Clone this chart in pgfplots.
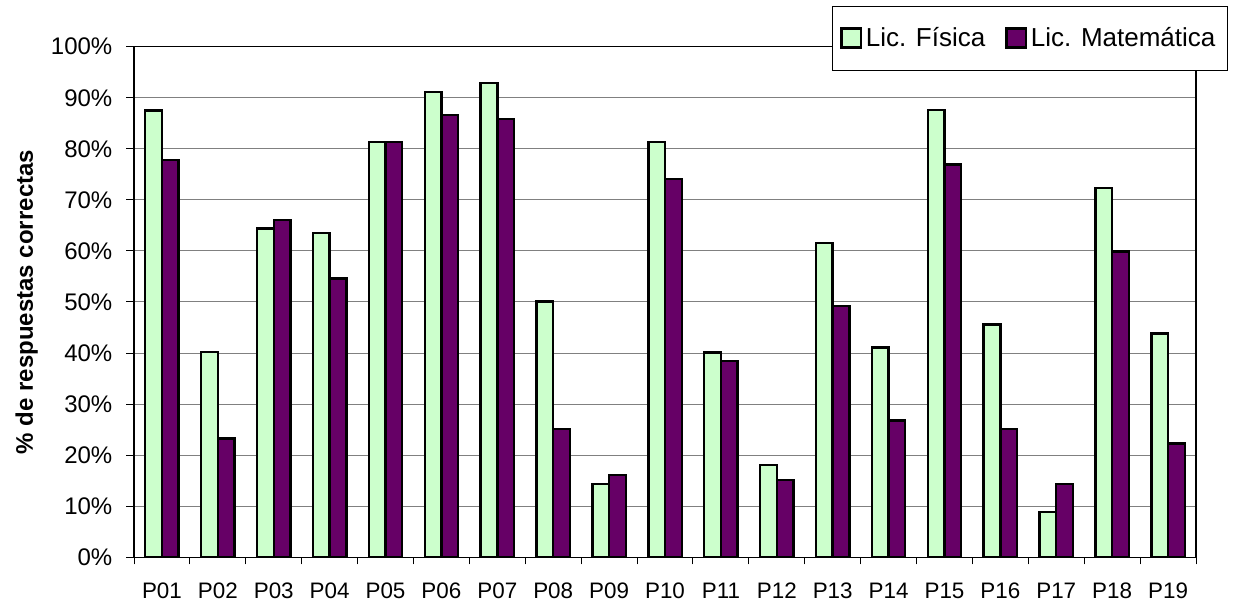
\documentclass[border=0pt]{standalone}
\usepackage{pgfplots}
\pgfplotsset{compat=1.18}
\usepackage{fontspec}
\setmainfont{Liberation Sans}

\definecolor{fisica}{HTML}{CCFFCC}
\definecolor{mate}{HTML}{660066}

% % de respuestas correctas por pregunta
\pgfplotstableread{
x  fis   mat
1  87.5  77.8
2  40.2  23.3
3  64.4  66.1
4  63.5  54.6
5  81.3  81.3
6  91.1  86.6
7  92.9  85.8
8  50.1  25.1
9  14.4  16.1
10 81.3  74.1
11 40.1  38.4
12 18.1  15.1
13 61.6  49.2
14 41.1  26.8
15 87.6  76.9
16 45.6  25.1
17  8.9  14.4
18 72.3  59.9
19 43.8  22.3
}\datos

\begin{document}
\begin{tikzpicture}
\begin{axis}[
    name=ax,
    scale only axis,
    width=531pt, height=255.3pt,
    xmin=0.5, xmax=19.5,
    ymin=0, ymax=100,
    ybar=0pt, bar width=8.35pt,
    xtick={1,...,19},
    xticklabels={P01,P02,P03,P04,P05,P06,P07,P08,P09,P10,P11,P12,P13,P14,P15,P16,P17,P18,P19},
    minor xtick={0.5,1.5,...,19.5},
    major x tick style={draw=none},
    minor tick length=3.6pt,
    ytick={0,10,...,100},
    major tick length=3.8pt,
    tick align=outside,
    tick style={black, line width=0.5pt},
    xtick pos=bottom, ytick pos=left,
    yticklabel={\pgfmathprintnumber{\tick}\%},
    /pgf/number format/assume math mode=true,
    yticklabel style={font=\fontsize{12}{14}\selectfont, xshift=-3.5pt},
    xticklabel style={font=\fontsize{11.2}{13}\selectfont, yshift=-5.5pt},
    ymajorgrids,
    grid style={black!50, line width=0.5pt},
    axis line style={black, line width=0.6pt},
    ylabel={\% de respuestas correctas},
    ylabel style={font=\bfseries\fontsize{12}{14}\selectfont, at={(axis description cs:-0.101,0.5)}, anchor=center},
    legend columns=2,
    legend style={at={(rel axis cs:1,1)}, anchor=north east, xshift=16pt, yshift=20.5pt,
        draw=black, line width=0.6pt, font=\fontsize{13}{15}\selectfont,
        inner xsep=4pt, inner ysep=8.5pt,
        /tikz/every even column/.append style={column sep=8pt}},
    legend image code/.code={\draw[#1,/tikz/.cd,line width=1.2pt,yshift=-4.6pt] (0pt,0pt) rectangle (9.6pt,9.6pt);},
]
\addplot[fill=fisica, draw=black, line width=1.2pt] table[x=x, y=fis] {\datos};
\addplot[fill=mate, draw=black, line width=1.2pt] table[x=x, y=mat] {\datos};
\legend{Lic. Física, Lic. Matemática}
\end{axis}
\path ([xshift=-67pt,yshift=-23.85pt]ax.south west) rectangle ([xshift=18.5pt,yshift=23.35pt]ax.north east);
\end{tikzpicture}
\end{document}
